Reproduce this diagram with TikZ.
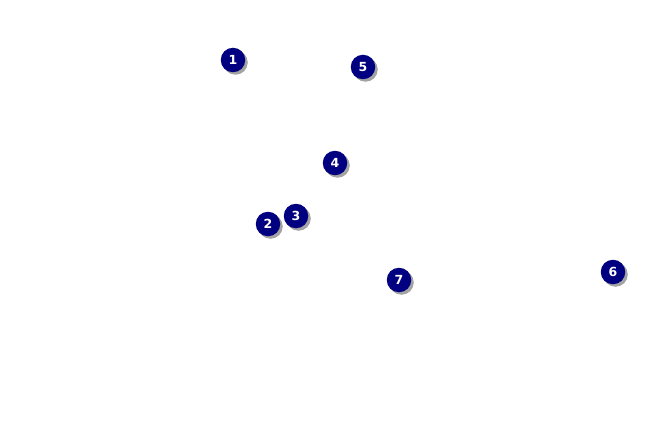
\documentclass[tikz,border=0pt]{standalone}
\usepackage{fontspec}
\setmainfont{DejaVu Sans}
\usetikzlibrary{shadows}
\definecolor{navy}{HTML}{000080}
\definecolor{shade}{HTML}{8C8C8C}
\begin{document}
\begin{tikzpicture}[x=1pt,y=-1pt,
  badge/.style={circle,fill=navy,minimum size=24.5pt,inner sep=0pt,
    text=white,font=\fontsize{12.5}{12.5}\selectfont\bfseries,
    drop shadow={shadow xshift=2.5pt,shadow yshift=-2.5pt,fill=shade,opacity=0.8}}]
\useasboundingbox[fill=white] (0,0) rectangle (650,425);
\node[badge] (n1) at (233,60) {1};
\node[badge] (n5) at (363,67) {5};
\node[badge] (n4) at (335,163) {4};
\node[badge] (n2) at (268,224) {2};
\node[badge] (n3) at (296,216) {3};
\node[badge] (n7) at (399,280) {7};
\node[badge] (n6) at (613,272) {6};
\end{tikzpicture}
\end{document}
